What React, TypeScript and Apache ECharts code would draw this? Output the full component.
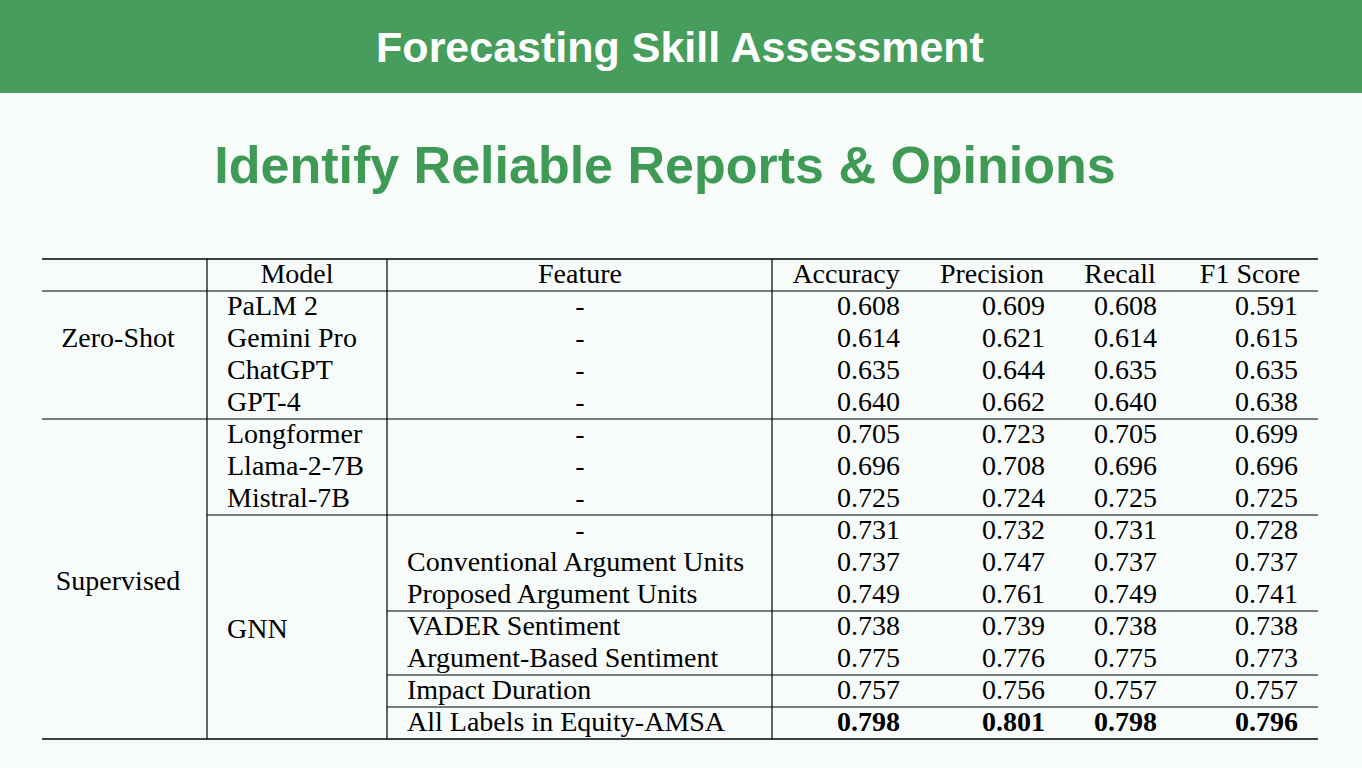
import React, { useEffect, useRef } from 'react';
import * as echarts from 'echarts';

const headers = ['', 'Model', 'Feature', 'Accuracy', 'Precision', 'Recall', 'F1 Score'];
const models = ['PaLM 2', 'Gemini Pro', 'ChatGPT', 'GPT-4', 'Longformer', 'Llama-2-7B', 'Mistral-7B', '', '', '', '', '', '', ''];
const features = ['-', '-', '-', '-', '-', '-', '-', '-', 'Conventional Argument Units', 'Proposed Argument Units', 'VADER Sentiment', 'Argument-Based Sentiment', 'Impact Duration', 'All Labels in Equity-AMSA'];
const accuracy = [0.608, 0.614, 0.635, 0.64, 0.705, 0.696, 0.725, 0.731, 0.737, 0.749, 0.738, 0.775, 0.757, 0.798];
const precision = [0.609, 0.621, 0.644, 0.662, 0.723, 0.708, 0.724, 0.732, 0.747, 0.761, 0.739, 0.776, 0.756, 0.801];
const recall = [0.608, 0.614, 0.635, 0.64, 0.705, 0.696, 0.725, 0.731, 0.737, 0.749, 0.738, 0.775, 0.757, 0.798];
const f1 = [0.591, 0.615, 0.635, 0.638, 0.699, 0.696, 0.725, 0.728, 0.737, 0.741, 0.738, 0.773, 0.757, 0.796];
// label sits at this (fractional) row position
const groups = [
  { name: 'Zero-Shot', at: 1 },
  { name: 'Supervised', at: 8.6 },
];
const gnn = { name: 'GNN', at: 10.1 };
// horizontal rules after these rows: [row index, left edge]
const rules: [number, number][] = [[3, 42], [6, 207], [9, 387], [11, 387], [12, 387]];

const App: React.FC = () => {
  const chartRef = useRef<HTMLDivElement | null>(null);

  useEffect(() => {
    document.body.style.margin = '0';
    if (!chartRef.current) return;
    const chart = echarts.init(chartRef.current, null, { renderer: 'svg' });

    const top = 259;
    const headH = 32;
    const rowH = 32;
    const L = 42;
    const R = 1318;
    const rowY = (i: number) => top + headH + rowH * i + rowH / 2 - 2;
    const font = '"Liberation Serif", "Times New Roman", serif';
    const txt = (x: number, y: number, s: string, align: string, bold = false) => ({
      type: 'text', x, y,
      style: { text: s, fontFamily: font, fontSize: 28, fill: '#000', align, verticalAlign: 'middle', fontWeight: bold ? 'bold' : 'normal' },
    });
    const line = (x1: number, y1: number, x2: number, y2: number, w = 1.2) => ({
      type: 'line', shape: { x1, y1, x2, y2 }, style: { stroke: '#000', lineWidth: w },
    });

    const els: any[] = [
      { type: 'rect', shape: { x: 0, y: 0, width: 1362, height: 768 }, style: { fill: '#f7fbfa' } },
      { type: 'rect', shape: { x: 0, y: 0, width: 1362, height: 93 }, style: { fill: '#469d5c' } },
      { type: 'text', x: 680, y: 47, style: { text: 'Forecasting Skill Assessment', fontFamily: 'Liberation Sans, Arial', fontWeight: 'bold', fontSize: 43, fill: '#fff', align: 'center', verticalAlign: 'middle' } },
      { type: 'text', x: 665, y: 165, style: { text: 'Identify Reliable Reports & Opinions', fontFamily: 'Liberation Sans, Arial', fontWeight: 'bold', fontSize: 52, fill: '#3f9a55', align: 'center', verticalAlign: 'middle', shadowColor: 'rgba(0,0,0,0.3)', shadowBlur: 3, shadowOffsetX: 1, shadowOffsetY: 2 } },
    ];

    const n = models.length;
    const bottom = top + headH + rowH * n;
    els.push(line(L, top, R, top, 1.5), line(L, top + headH, R, top + headH), line(L, bottom, R, bottom, 1.5));
    [207, 387, 772].forEach((x) => els.push(line(x, top, x, bottom)));
    rules.forEach(([r, x]) => {
      const y = top + headH + rowH * (r + 1);
      els.push(line(x, y, R, y));
    });

    const hx = [118, 297, 580, 846, 992, 1120, 1250];
    headers.forEach((h, i) => h && els.push(txt(hx[i], top + headH / 2 - 2, h, 'center')));

    groups.forEach((g) => els.push(txt(118, rowY(g.at), g.name, 'center')));
    els.push(txt(227, rowY(gnn.at), gnn.name, 'left'));

    const cols = [accuracy, precision, recall, f1];
    const cx = [900, 1045, 1157, 1298];
    for (let i = 0; i < n; i++) {
      const y = rowY(i);
      const bold = i === n - 1;
      if (models[i]) els.push(txt(227, y, models[i], 'left'));
      els.push(features[i] === '-' ? txt(580, y, '-', 'center') : txt(407, y, features[i], 'left'));
      cols.forEach((c, j) => els.push(txt(cx[j], y, c[i].toFixed(3), 'right', bold)));
    }

    chart.setOption({ animation: false, graphic: { elements: els } });
    return () => chart.dispose();
  }, []);

  return <div ref={chartRef} style={{ width: 1362, height: 768 }} />;
};

export default App;
